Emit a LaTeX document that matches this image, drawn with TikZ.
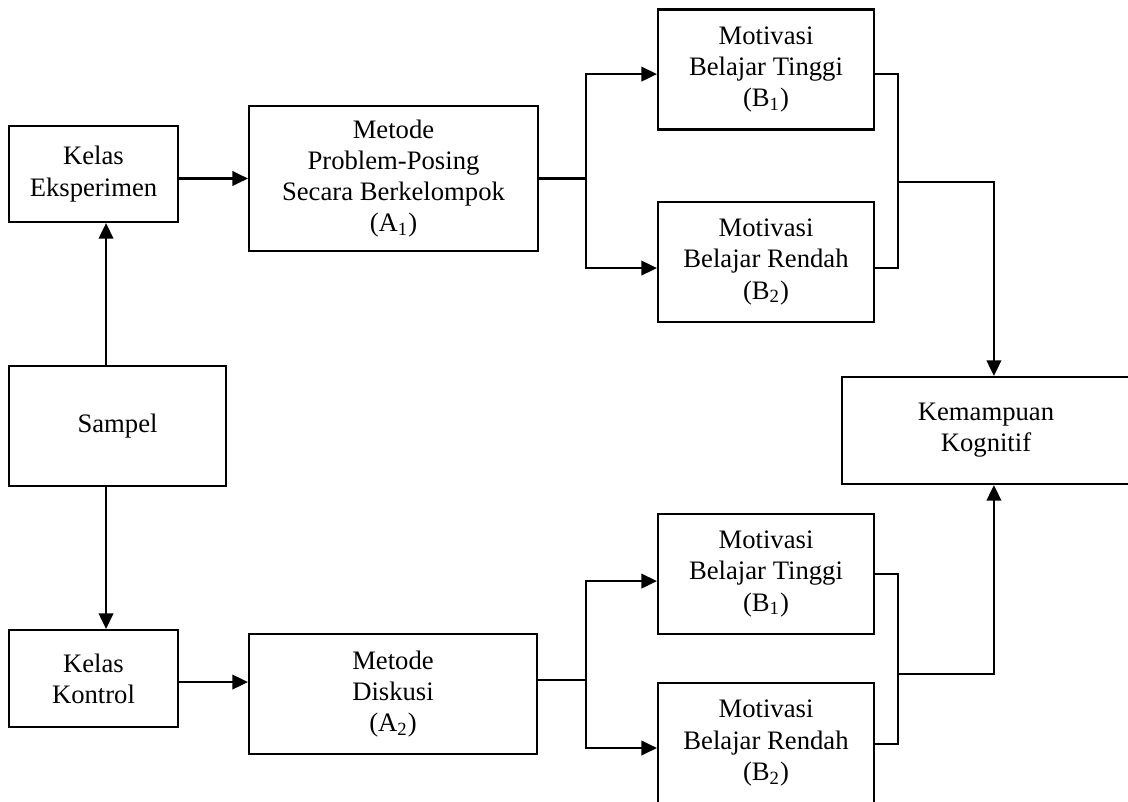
\documentclass[tikz,border=0pt]{standalone}
\usepackage{fontspec}
\setmainfont{Liberation Serif}
\usepackage{tikz}
\usetikzlibrary{positioning}
\usetikzlibrary{arrows.meta}
\usetikzlibrary{calc}

\begin{document}
\begin{tikzpicture}[x=0.48pt, y=-0.48pt, line width=1pt,
  box/.style={draw, line width=1pt, align=center, inner sep=0pt,
              font=\fontsize{12.8pt}{15pt}\selectfont},
  arr/.style={-{Triangle[length=7.5pt,width=7pt]}}]

 \useasboundingbox (0,0) rectangle (1128,801);
 \clip (0,0) rectangle (1128,801);

 %left column
 \node[box, minimum width=169*0.48pt, minimum height=96*0.48pt] (KE) at (93.5,174) {Kelas\\Eksperimen};
 \node[box, minimum width=217*0.48pt, minimum height=120*0.48pt] (S) at (117.5,426) {Sampel};
 \node[box, minimum width=169*0.48pt, minimum height=97*0.48pt] (KK) at (93.5,678.5) {Kelas\\Kontrol};

 %methods
 \node[box, minimum width=289*0.48pt, minimum height=145*0.48pt] (A1) at (393.5,178.5) {Metode\\Problem-Posing\\Secara Berkelompok\\(A\textsubscript{1})};
 \node[box, minimum width=288*0.48pt, minimum height=120*0.48pt] (A2) at (393,694) {Metode\\Diskusi\\(A\textsubscript{2})};

 %motivation
 \foreach \name/\y/\lvl/\b in {B1a/69.5/Tinggi/1, B2a/262/Rendah/2, B1b/574/Tinggi/1, B2b/743/Rendah/2} {
   \node[box, minimum width=216*0.48pt, minimum height=120*0.48pt] (\name) at (766,\y) {Motivasi\\Belajar \lvl\\(B\textsubscript{\b})};
 }

 %result
 \node[box, minimum width=288*0.48pt, minimum height=107*0.48pt] (KM) at (986,430.5) {Kemampuan\\Kognitif};

 %sample split
 \draw[arr] ([xshift=-5.5pt]S.north) -- ([xshift=-5.5pt]S.north |- KE.south);
 \draw[arr] ([xshift=-5.5pt]S.south) -- ([xshift=-5.5pt]S.south |- KK.north);

 %class to method
 \draw[arr] (KE.east |- A1.west) -- (A1.west);
 \draw[arr] ([yshift=-1.7pt]KK.east) -- ([yshift=-1.7pt]KK.east -| A2.west);

 %method to motivation
 \coordinate (sa) at (586,178.5);
 \coordinate (sb) at (586,680);
 \draw (A1.east |- sa) -- (sa);
 \draw[arr] (sa) |- ([yshift=-2.2pt]B1a.west);
 \draw[arr] (sa) |- ([yshift=-2.9pt]B2a.west);
 \draw (A2.east |- sb) -- (sb);
 \draw[arr] (sb) |- ([yshift=-3.4pt]B1b.west);
 \draw[arr] (sb) |- ([yshift=-2.4pt]B2b.west);

 %motivation to result
 \coordinate (ma) at (898,182);
 \coordinate (mb) at (898,674);
 \draw ([yshift=-2.2pt]B1a.east) -| (ma) |- ([yshift=-2.9pt]B2a.east);
 \draw[arr] (ma) -| ([xshift=3.8pt]KM.north);
 \draw (B1b.east) -| (mb) |- ([yshift=-0.5pt]B2b.east);
 \draw[arr] (mb) -| ([xshift=3.8pt]KM.south);
\end{tikzpicture}
\end{document}
